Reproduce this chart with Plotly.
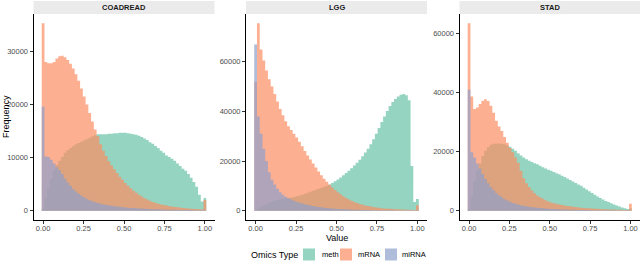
import numpy as np
import plotly.graph_objects as go

# ---------------- data ----------------
panels = ["COADREAD", "LGG", "STAD"]
omics_types = ["meth", "mRNA", "miRNA"]
n_bins = 60
bin_centers = list(np.linspace(0.0, 1.0, n_bins))   # histogram bin centres (bins = 60)
bin_width = 1.0 / (n_bins - 1)

coadread_meth = [300, 2400, 4300, 6000, 7500, 8600, 9400, 10100, 10900, 11400,
                 11800, 12200, 12500, 12750, 13000, 13250, 13500, 13750, 14000, 14200,
                 14400, 14400, 14400, 14400, 14500, 14500, 14600, 14600, 14700, 14700,
                 14700, 14600, 14500, 14400, 14300, 14100, 13900, 13600, 13300, 12900,
                 12600, 12200, 11800, 11300, 10900, 10400, 10100, 9800, 9400, 8900,
                 8400, 7900, 7500, 6900, 6200, 5400, 4500, 3000, 1700, 2400]
coadread_mrna = [35300, 28000, 27800, 27800, 28000, 28700, 29100, 29200, 28900, 28400,
                 27700, 26800, 25700, 24500, 23000, 21500, 20000, 18400, 16800, 15300,
                 14000, 12500, 11300, 10300, 9300, 8500, 7800, 7100, 6400, 5800,
                 5200, 4700, 4200, 3750, 3350, 3000, 2650, 2350, 2100, 1850,
                 1650, 1480, 1320, 1180, 1060, 950, 850, 770, 700, 630,
                 570, 510, 460, 410, 370, 330, 290, 250, 220, 2000]
coadread_mirna = [19600, 10200, 10100, 9600, 8900, 8200, 7600, 6900, 6000, 5300,
                  4700, 4100, 3600, 3200, 2800, 2500, 2200, 1950, 1750, 1600,
                  1450, 1300, 1180, 1080, 1000, 920, 850, 780, 720, 660,
                  610, 560, 520, 480, 440, 410, 380, 350, 320, 300,
                  280, 260, 240, 220, 200, 190, 180, 170, 160, 150,
                  140, 130, 120, 110, 100, 95, 90, 85, 80, 60]

lgg_meth = [200, 800, 1500, 2100, 2700, 3200, 3600, 3900, 4200, 4500,
            4700, 4900, 5100, 5300, 5500, 5800, 6100, 6400, 6800, 7200,
            7600, 8000, 8400, 8800, 9200, 9600, 10000, 10500, 11100, 11800,
            12600, 13400, 14300, 15200, 16100, 17100, 18200, 19300, 20500, 21900,
            23400, 25000, 26800, 28800, 31000, 33300, 35700, 38000, 40200, 42200,
            43800, 45000, 46000, 46700, 47000, 46500, 44500, 18000, 3500, 4700]
lgg_mrna = [52000, 75500, 65000, 60500, 56500, 53000, 50000, 47000, 44000, 41000,
            38500, 36000, 34000, 32500, 31000, 29500, 27800, 26000, 24000, 22200,
            20600, 19000, 17400, 15800, 14300, 12900, 11600, 10400, 9300, 8300,
            7400, 6600, 5800, 5100, 4500, 4000, 3500, 3100, 2700, 2400,
            2100, 1900, 1700, 1500, 1300, 1150, 1000, 900, 800, 720,
            650, 580, 520, 470, 420, 380, 340, 300, 270, 2200]
lgg_mirna = [67000, 38000, 31000, 25000, 20000, 15500, 12500, 10500, 8800, 7400,
             6400, 5600, 5000, 4500, 4000, 3600, 3200, 2900, 2600, 2350,
             2100, 1900, 1700, 1500, 1350, 1200, 1080, 970, 870, 780,
             700, 630, 570, 510, 460, 420, 380, 340, 310, 280,
             250, 230, 210, 190, 175, 160, 150, 140, 130, 120,
             110, 100, 95, 90, 85, 80, 75, 70, 65, 200]

stad_meth = [500, 5000, 10000, 13500, 16000, 18500, 20300, 21500, 22300, 22700,
             22800, 22800, 22700, 22500, 22200, 21700, 21000, 20300, 19500, 18700,
             18000, 17400, 16900, 16500, 16100, 15700, 15200, 14700, 14300, 13900,
             13500, 13100, 12700, 12300, 11800, 11400, 10900, 10400, 9900, 9400,
             8900, 8400, 7800, 7200, 6600, 6000, 5400, 4800, 4300, 3800,
             3300, 2900, 2500, 2100, 1700, 1400, 1100, 800, 550, 700]
stad_mrna = [63500, 38700, 34500, 35000, 36200, 37300, 37800, 37200, 35600, 33200,
             30500, 28500, 27000, 25000, 23000, 21200, 19800, 18000, 16200, 13500,
             11000, 9300, 8000, 6800, 5900, 5100, 4500, 4000, 3500, 3100,
             2800, 2500, 2300, 2100, 1900, 1750, 1600, 1450, 1300, 1200,
             1100, 1000, 920, 850, 780, 720, 660, 600, 550, 500,
             460, 420, 380, 350, 320, 290, 260, 240, 220, 2300]
stad_mirna = [41000, 19800, 18000, 16000, 14300, 12400, 10700, 9300, 8000, 6900,
              6000, 5200, 4500, 3900, 3400, 3000, 2600, 2300, 2050, 1800,
              1600, 1450, 1300, 1180, 1050, 950, 860, 780, 710, 650,
              590, 540, 490, 450, 410, 380, 350, 320, 290, 270,
              250, 230, 210, 195, 180, 165, 150, 140, 130, 120,
              110, 100, 95, 90, 85, 80, 75, 70, 65, 60]

x_tick_vals = [0.0, 0.25, 0.5, 0.75, 1.0]
y_tick_vals = {"COADREAD": [0, 10000, 20000, 30000],
               "LGG": [0, 20000, 40000, 60000],
               "STAD": [0, 20000, 40000, 60000]}

series = {
    "COADREAD": [coadread_meth, coadread_mrna, coadread_mirna],
    "LGG": [lgg_meth, lgg_mrna, lgg_mirna],
    "STAD": [stad_meth, stad_mrna, stad_mirna],
}

# ---------------- style ----------------
alpha_col = {"meth": "rgba(102,194,165,0.7)", "mRNA": "rgba(252,141,98,0.7)",
             "miRNA": "rgba(141,160,203,0.7)"}
FONT = "Liberation Sans, Arial, Helvetica, sans-serif"
W, H = 640, 261
px_x = lambda p: p / W
px_y = lambda p: (H - p) / H

x_domains = [(33.5, 214.5), (246.0, 427.0), (459.5, 640.0)]
panel_top, panel_bottom = 14.0, 220.0
strip_top = 1.0

fig = go.Figure()
layout = dict(width=W, height=H, margin=dict(l=0, r=0, t=0, b=0),
              paper_bgcolor="white", plot_bgcolor="white",
              showlegend=False, font=dict(family=FONT))
shapes, annotations = [], []

# histogram bin edges derived from the bin centres
bin_edges = [c - bin_width / 2 for c in bin_centers] + [bin_centers[-1] + bin_width / 2]
edge_lo, edge_hi = bin_edges[0], bin_edges[-1]
xpad = 0.05 * (edge_hi - edge_lo)

for i, name in enumerate(panels):
    ax = "" if i == 0 else str(i + 1)
    for t, vals in zip(omics_types, series[name]):
        # histogram drawn as a filled step outline (one polygon per series,
        # so no seams between adjacent bins)
        fig.add_trace(go.Scatter(x=bin_edges, y=list(vals) + [vals[-1]],
                                 mode="lines", line=dict(shape="hv", width=0),
                                 fill="tozeroy", fillcolor=alpha_col[t],
                                 name=t, xaxis="x" + ax, yaxis="y" + ax,
                                 hoverinfo="skip"))
    ymax = max(max(v) for v in series[name])
    d0, d1 = x_domains[i]
    layout["xaxis" + ax] = dict(
        domain=[px_x(d0), px_x(d1)], anchor="y" + ax,
        range=[edge_lo - xpad, edge_hi + xpad],
        tickvals=x_tick_vals, tickformat=".2f",
        showline=True, linecolor="black", linewidth=1,
        ticks="outside", ticklen=3, tickcolor="#333333", tickwidth=1,
        ticklabelstandoff=-2,
        tickfont=dict(size=7.5, color="#4D4D4D", family=FONT),
        showgrid=False, zeroline=False)
    layout["yaxis" + ax] = dict(
        domain=[px_y(panel_bottom), px_y(panel_top)], anchor="x" + ax,
        range=[-0.05 * ymax, 1.05 * ymax],
        tickvals=y_tick_vals[name], tickformat="d",
        showline=True, linecolor="black", linewidth=1,
        ticks="outside", ticklen=3, tickcolor="#333333", tickwidth=1,
        tickfont=dict(size=7.5, color="#4D4D4D", family=FONT),
        showgrid=False, zeroline=False)
    # facet strip
    shapes.append(dict(type="rect", xref="paper", yref="paper",
                       x0=px_x(d0), x1=px_x(d1),
                       y0=px_y(panel_top), y1=px_y(strip_top),
                       fillcolor="#EBEBEB", line=dict(width=0), layer="below"))
    annotations.append(dict(text="<b>%s</b>" % name, xref="paper", yref="paper",
                            x=px_x((d0 + d1) / 2), y=px_y((panel_top + strip_top) / 2),
                            xanchor="center", yanchor="middle", showarrow=False,
                            font=dict(size=7.5, color="#1A1A1A", family=FONT)))

# axis titles
annotations.append(dict(text="Value", xref="paper", yref="paper",
                        x=px_x(337), y=px_y(238), xanchor="center", yanchor="middle",
                        showarrow=False, font=dict(size=9, color="black", family=FONT)))
annotations.append(dict(text="Frequency", xref="paper", yref="paper",
                        x=px_x(6), y=px_y(117), xanchor="center", yanchor="middle",
                        textangle=-90, showarrow=False,
                        font=dict(size=9, color="black", family=FONT)))

# legend (drawn manually to match ggplot placement)
annotations.append(dict(text="Omics Type", xref="paper", yref="paper",
                        x=px_x(249), y=px_y(254.5), xanchor="left", yanchor="middle",
                        showarrow=False, font=dict(size=9, color="black", family=FONT)))
legend_keys = [(303, 320), (340, 356), (385, 400)]
for t, (kx, tx) in zip(omics_types, legend_keys):
    shapes.append(dict(type="rect", xref="paper", yref="paper",
                       x0=px_x(kx), x1=px_x(kx + 12), y0=px_y(260.5), y1=px_y(248.5),
                       fillcolor=alpha_col[t], line=dict(width=0)))
    annotations.append(dict(text=t, xref="paper", yref="paper",
                            x=px_x(tx), y=px_y(254.5), xanchor="left", yanchor="middle",
                            showarrow=False, font=dict(size=7.5, color="black", family=FONT)))

layout["shapes"] = shapes
layout["annotations"] = annotations
fig.update_layout(**layout)
fig.write_html("out.html", config={"displayModeBar": False},
               post_script="document.body.style.margin='0';document.body.style.overflow='hidden';")
